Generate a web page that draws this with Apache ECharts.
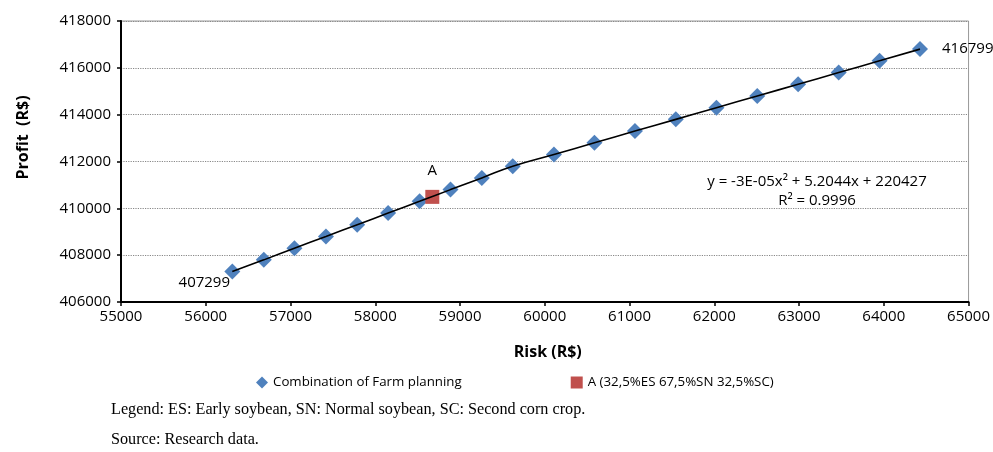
<!DOCTYPE html>
<html>
<head>
<meta charset="utf-8">
<script src="https://cdn.jsdelivr.net/npm/echarts@6/dist/echarts.min.js"></script>
<style>
  html, body { margin: 0; padding: 0; background: #fff; }
  #chart { width: 993px; height: 452px; }
</style>
</head>
<body>
<div id="chart"></div>
<script>
// risk / profit of each farm-plan combination
const riskX = [56313, 56685, 57046, 57418, 57787, 58152, 58523, 58888, 59257, 59622,
  60108, 60586, 61064, 61546, 62025, 62507, 62989, 63468, 63950, 64427];
const profitY = [407299, 407799, 408299, 408799, 409299, 409799, 410299, 410799, 411299, 411799,
  412299, 412799, 413299, 413799, 414299, 414799, 415299, 415799, 416299, 416799];
const pointA = [58673, 410490];

const NAME_COMB = 'Combination of Farm planning';
const NAME_A = 'A (32,5%ES 67,5%SN 32,5%SC)';
const EQ_TEXT = 'y = -3E-05x\u00b2 + 5.2044x + 220427';
const R2_TEXT = 'R\u00b2 = 0.9996';
const NOTE_1 = 'Legend: ES: Early soybean, SN: Normal soybean, SC: Second corn crop.';
const NOTE_2 = 'Source: Research data.';

const SANS = '"Open Sans", "Liberation Sans", sans-serif';
const SERIF = '"Liberation Serif", "DejaVu Serif", serif';
const BLUE = '#4f81bd';
const RED = '#c0504d';

// 数据点标签：黑字、无描边
const ptLabel = (extra) => Object.assign({
  show: true, color: '#000', fontFamily: SANS, fontSize: 15, textBorderWidth: 0,
}, extra);

const last = riskX.length - 1;
const combData = riskX.map((x, i) => {
  const item = { value: [x, profitY[i]] };
  if (i === 0) {
    item.label = ptLabel({ position: 'bottom', offset: [-28, -9], formatter: String(profitY[i]) });
  } else if (i === last) {
    item.label = ptLabel({ position: 'right', distance: 14, formatter: String(profitY[i]) });
  }
  return item;
});

const chart = echarts.init(document.getElementById('chart'), null, { renderer: 'canvas' });
chart.setOption({
  animation: false,
  backgroundColor: '#fff',
  textStyle: { fontFamily: SANS, color: '#000' },
  grid: { left: 121, right: 22, top: 21, bottom: 150, show: true, borderColor: '#999', borderWidth: 1 },
  xAxis: {
    type: 'value', min: 55000, max: 65000, interval: 1000,
    name: 'Risk (R$)', nameLocation: 'middle', nameGap: 42,
    nameTextStyle: { fontFamily: SANS, fontWeight: 'bold', fontSize: 16, color: '#000', padding: [0, 0, 0, 6] },
    axisLine: { lineStyle: { color: '#000', width: 2 } },
    axisTick: { show: true, length: 4, lineStyle: { color: '#000', width: 1.5 } },
    axisLabel: { color: '#000', fontFamily: SANS, fontSize: 15, margin: 7, formatter: (v) => String(v) },
    splitLine: { show: false },
  },
  yAxis: {
    type: 'value', min: 406000, max: 418000, interval: 2000,
    name: 'Profit  (R$)', nameLocation: 'middle', nameGap: 90, nameRotate: 90,
    // 标题略偏上（原图并非正中）
    nameTextStyle: { fontFamily: SANS, fontWeight: 'bold', fontSize: 16, color: '#000', padding: [0, 0, 0, 48] },
    axisLine: { show: true, lineStyle: { color: '#000', width: 2 } },
    axisTick: { show: true, length: 4, lineStyle: { color: '#000', width: 1.5 } },
    axisLabel: { color: '#000', fontFamily: SANS, fontSize: 15, margin: 10, formatter: (v) => String(v) },
    splitLine: { lineStyle: { color: '#888', type: 'dotted', width: 1.2 } },
  },
  legend: {
    data: [
      { name: NAME_COMB, icon: 'diamond' },
      { name: NAME_A, icon: 'rect' },
    ],
    top: 371, left: 251, itemGap: 109, itemWidth: 12, itemHeight: 12,
    textStyle: { fontFamily: SANS, fontSize: 13.3, color: '#000' },
  },
  series: [
    {
      name: NAME_COMB, type: 'scatter', symbol: 'diamond', symbolSize: 16,
      itemStyle: { color: BLUE, opacity: 1 }, data: combData, z: 3,
    },
    {
      name: NAME_A, type: 'scatter', symbol: 'rect', symbolSize: 14,
      itemStyle: { color: RED, opacity: 1 }, data: [pointA], z: 3,
      label: ptLabel({ position: 'top', distance: 12, formatter: 'A' }),
    },
    {
      name: 'trend', type: 'line', smooth: true, showSymbol: false, silent: true,
      data: riskX.map((x, i) => [x, profitY[i]]),
      lineStyle: { color: '#000', width: 1.6 }, z: 4,
    },
  ],
  graphic: [
    { type: 'text', x: 817, y: 174,
      style: { text: EQ_TEXT, fill: '#000', font: '15px ' + SANS, textAlign: 'center' } },
    { type: 'text', x: 817, y: 193,
      style: { text: R2_TEXT, fill: '#000', font: '15px ' + SANS, textAlign: 'center' } },
    { type: 'text', left: 111, top: 402,
      style: { text: NOTE_1, fill: '#000', font: '16.2px ' + SERIF } },
    { type: 'text', left: 111, top: 432,
      style: { text: NOTE_2, fill: '#000', font: '16.2px ' + SERIF } },
  ],
});
</script>
</body>
</html>
